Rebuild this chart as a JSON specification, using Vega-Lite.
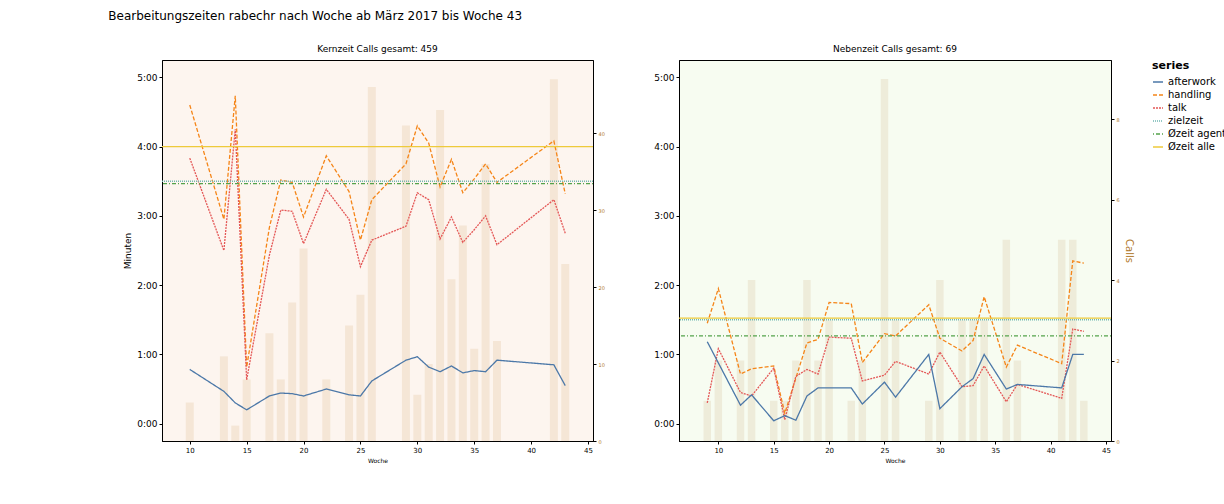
{
  "$schema": "https://vega.github.io/schema/vega-lite/v6.json",
  "autosize": {"type": "pad"},
  "padding": {"left": 108, "top": 9, "right": 14, "bottom": 4},
  "background": "white",
  "title": {"text": "Bearbeitungszeiten rabechr nach Woche ab März 2017 bis Woche 43", "fontSize": 12, "fontWeight": "normal", "font": "DejaVu Sans", "offset": 22, "dx": -15},
  "config": {
    "font": "DejaVu Sans",
    "concat": {"spacing": 86},
    "axis": {"grid": false, "domainColor": "black", "tickColor": "black", "labelColor": "black", "tickSize": 3}
  },
  "bounds": "flush",
  "datasets": {
    "lines": [
      {"panel": "K", "week": 10, "series": "handling", "value": 276},
      {"panel": "K", "week": 13, "series": "handling", "value": 177},
      {"panel": "K", "week": 14, "series": "handling", "value": 284},
      {"panel": "K", "week": 15, "series": "handling", "value": 49},
      {"panel": "K", "week": 17, "series": "handling", "value": 170},
      {"panel": "K", "week": 18, "series": "handling", "value": 211},
      {"panel": "K", "week": 19, "series": "handling", "value": 209},
      {"panel": "K", "week": 20, "series": "handling", "value": 179},
      {"panel": "K", "week": 22, "series": "handling", "value": 232},
      {"panel": "K", "week": 24, "series": "handling", "value": 201},
      {"panel": "K", "week": 25, "series": "handling", "value": 159},
      {"panel": "K", "week": 26, "series": "handling", "value": 194},
      {"panel": "K", "week": 29, "series": "handling", "value": 225},
      {"panel": "K", "week": 30, "series": "handling", "value": 258},
      {"panel": "K", "week": 31, "series": "handling", "value": 243},
      {"panel": "K", "week": 32, "series": "handling", "value": 205},
      {"panel": "K", "week": 33, "series": "handling", "value": 229},
      {"panel": "K", "week": 34, "series": "handling", "value": 200},
      {"panel": "K", "week": 35, "series": "handling", "value": 212},
      {"panel": "K", "week": 36, "series": "handling", "value": 225},
      {"panel": "K", "week": 37, "series": "handling", "value": 209},
      {"panel": "K", "week": 42, "series": "handling", "value": 245},
      {"panel": "K", "week": 43, "series": "handling", "value": 199},
      {"panel": "K", "week": 10, "series": "talk", "value": 230},
      {"panel": "K", "week": 13, "series": "talk", "value": 150},
      {"panel": "K", "week": 14, "series": "talk", "value": 255},
      {"panel": "K", "week": 15, "series": "talk", "value": 38},
      {"panel": "K", "week": 17, "series": "talk", "value": 146},
      {"panel": "K", "week": 18, "series": "talk", "value": 185},
      {"panel": "K", "week": 19, "series": "talk", "value": 184},
      {"panel": "K", "week": 20, "series": "talk", "value": 156},
      {"panel": "K", "week": 22, "series": "talk", "value": 203},
      {"panel": "K", "week": 24, "series": "talk", "value": 177},
      {"panel": "K", "week": 25, "series": "talk", "value": 136},
      {"panel": "K", "week": 26, "series": "talk", "value": 159},
      {"panel": "K", "week": 29, "series": "talk", "value": 171},
      {"panel": "K", "week": 30, "series": "talk", "value": 200},
      {"panel": "K", "week": 31, "series": "talk", "value": 194},
      {"panel": "K", "week": 32, "series": "talk", "value": 160},
      {"panel": "K", "week": 33, "series": "talk", "value": 179},
      {"panel": "K", "week": 34, "series": "talk", "value": 157},
      {"panel": "K", "week": 35, "series": "talk", "value": 168},
      {"panel": "K", "week": 36, "series": "talk", "value": 180},
      {"panel": "K", "week": 37, "series": "talk", "value": 155},
      {"panel": "K", "week": 42, "series": "talk", "value": 194},
      {"panel": "K", "week": 43, "series": "talk", "value": 165},
      {"panel": "K", "week": 10, "series": "afterwork", "value": 47},
      {"panel": "K", "week": 13, "series": "afterwork", "value": 28},
      {"panel": "K", "week": 14, "series": "afterwork", "value": 18},
      {"panel": "K", "week": 15, "series": "afterwork", "value": 12},
      {"panel": "K", "week": 17, "series": "afterwork", "value": 24},
      {"panel": "K", "week": 18, "series": "afterwork", "value": 26.5},
      {"panel": "K", "week": 19, "series": "afterwork", "value": 26},
      {"panel": "K", "week": 20, "series": "afterwork", "value": 24},
      {"panel": "K", "week": 22, "series": "afterwork", "value": 30},
      {"panel": "K", "week": 24, "series": "afterwork", "value": 25},
      {"panel": "K", "week": 25, "series": "afterwork", "value": 24},
      {"panel": "K", "week": 26, "series": "afterwork", "value": 37},
      {"panel": "K", "week": 29, "series": "afterwork", "value": 55},
      {"panel": "K", "week": 30, "series": "afterwork", "value": 58},
      {"panel": "K", "week": 31, "series": "afterwork", "value": 49},
      {"panel": "K", "week": 32, "series": "afterwork", "value": 45},
      {"panel": "K", "week": 33, "series": "afterwork", "value": 50},
      {"panel": "K", "week": 34, "series": "afterwork", "value": 44},
      {"panel": "K", "week": 35, "series": "afterwork", "value": 46},
      {"panel": "K", "week": 36, "series": "afterwork", "value": 45},
      {"panel": "K", "week": 37, "series": "afterwork", "value": 55},
      {"panel": "K", "week": 42, "series": "afterwork", "value": 51},
      {"panel": "K", "week": 43, "series": "afterwork", "value": 33},
      {"panel": "N", "week": 9, "series": "handling", "value": 87},
      {"panel": "N", "week": 10, "series": "handling", "value": 117},
      {"panel": "N", "week": 12, "series": "handling", "value": 43},
      {"panel": "N", "week": 13, "series": "handling", "value": 47.5},
      {"panel": "N", "week": 15, "series": "handling", "value": 50},
      {"panel": "N", "week": 16, "series": "handling", "value": 9},
      {"panel": "N", "week": 18, "series": "handling", "value": 70},
      {"panel": "N", "week": 19, "series": "handling", "value": 73},
      {"panel": "N", "week": 20, "series": "handling", "value": 105},
      {"panel": "N", "week": 22, "series": "handling", "value": 104},
      {"panel": "N", "week": 23, "series": "handling", "value": 53},
      {"panel": "N", "week": 25, "series": "handling", "value": 78},
      {"panel": "N", "week": 26, "series": "handling", "value": 76},
      {"panel": "N", "week": 29, "series": "handling", "value": 103},
      {"panel": "N", "week": 30, "series": "handling", "value": 74},
      {"panel": "N", "week": 32, "series": "handling", "value": 63},
      {"panel": "N", "week": 33, "series": "handling", "value": 72},
      {"panel": "N", "week": 34, "series": "handling", "value": 110},
      {"panel": "N", "week": 36, "series": "handling", "value": 49},
      {"panel": "N", "week": 37, "series": "handling", "value": 68},
      {"panel": "N", "week": 41, "series": "handling", "value": 52},
      {"panel": "N", "week": 42, "series": "handling", "value": 141},
      {"panel": "N", "week": 43, "series": "handling", "value": 139},
      {"panel": "N", "week": 9, "series": "talk", "value": 18},
      {"panel": "N", "week": 10, "series": "talk", "value": 65},
      {"panel": "N", "week": 12, "series": "talk", "value": 27},
      {"panel": "N", "week": 13, "series": "talk", "value": 24},
      {"panel": "N", "week": 15, "series": "talk", "value": 48},
      {"panel": "N", "week": 16, "series": "talk", "value": 3.5},
      {"panel": "N", "week": 17, "series": "talk", "value": 41},
      {"panel": "N", "week": 18, "series": "talk", "value": 47},
      {"panel": "N", "week": 19, "series": "talk", "value": 43},
      {"panel": "N", "week": 20, "series": "talk", "value": 75},
      {"panel": "N", "week": 22, "series": "talk", "value": 74},
      {"panel": "N", "week": 23, "series": "talk", "value": 37},
      {"panel": "N", "week": 25, "series": "talk", "value": 42},
      {"panel": "N", "week": 26, "series": "talk", "value": 54},
      {"panel": "N", "week": 29, "series": "talk", "value": 43},
      {"panel": "N", "week": 30, "series": "talk", "value": 62},
      {"panel": "N", "week": 32, "series": "talk", "value": 32},
      {"panel": "N", "week": 33, "series": "talk", "value": 33},
      {"panel": "N", "week": 34, "series": "talk", "value": 50},
      {"panel": "N", "week": 36, "series": "talk", "value": 19},
      {"panel": "N", "week": 37, "series": "talk", "value": 34},
      {"panel": "N", "week": 41, "series": "talk", "value": 22},
      {"panel": "N", "week": 42, "series": "talk", "value": 82},
      {"panel": "N", "week": 43, "series": "talk", "value": 80},
      {"panel": "N", "week": 9, "series": "afterwork", "value": 71},
      {"panel": "N", "week": 12, "series": "afterwork", "value": 16},
      {"panel": "N", "week": 13, "series": "afterwork", "value": 25},
      {"panel": "N", "week": 15, "series": "afterwork", "value": 2.5},
      {"panel": "N", "week": 16, "series": "afterwork", "value": 7},
      {"panel": "N", "week": 17, "series": "afterwork", "value": 3},
      {"panel": "N", "week": 18, "series": "afterwork", "value": 24},
      {"panel": "N", "week": 19, "series": "afterwork", "value": 31},
      {"panel": "N", "week": 20, "series": "afterwork", "value": 31},
      {"panel": "N", "week": 22, "series": "afterwork", "value": 31},
      {"panel": "N", "week": 23, "series": "afterwork", "value": 17},
      {"panel": "N", "week": 25, "series": "afterwork", "value": 36},
      {"panel": "N", "week": 26, "series": "afterwork", "value": 23},
      {"panel": "N", "week": 29, "series": "afterwork", "value": 60},
      {"panel": "N", "week": 30, "series": "afterwork", "value": 13},
      {"panel": "N", "week": 32, "series": "afterwork", "value": 32},
      {"panel": "N", "week": 33, "series": "afterwork", "value": 39},
      {"panel": "N", "week": 34, "series": "afterwork", "value": 60},
      {"panel": "N", "week": 36, "series": "afterwork", "value": 30},
      {"panel": "N", "week": 37, "series": "afterwork", "value": 34},
      {"panel": "N", "week": 41, "series": "afterwork", "value": 31},
      {"panel": "N", "week": 42, "series": "afterwork", "value": 60},
      {"panel": "N", "week": 43, "series": "afterwork", "value": 60}
    ],
    "calls": [
      {"panel": "K", "week": 10, "calls": 5}, {"panel": "K", "week": 13, "calls": 11},
      {"panel": "K", "week": 14, "calls": 2}, {"panel": "K", "week": 15, "calls": 8},
      {"panel": "K", "week": 17, "calls": 14}, {"panel": "K", "week": 18, "calls": 8},
      {"panel": "K", "week": 19, "calls": 18}, {"panel": "K", "week": 20, "calls": 25},
      {"panel": "K", "week": 22, "calls": 8}, {"panel": "K", "week": 24, "calls": 15},
      {"panel": "K", "week": 25, "calls": 19}, {"panel": "K", "week": 26, "calls": 46},
      {"panel": "K", "week": 29, "calls": 41}, {"panel": "K", "week": 30, "calls": 6},
      {"panel": "K", "week": 31, "calls": 10}, {"panel": "K", "week": 32, "calls": 43},
      {"panel": "K", "week": 33, "calls": 21}, {"panel": "K", "week": 34, "calls": 28},
      {"panel": "K", "week": 35, "calls": 12}, {"panel": "K", "week": 36, "calls": 36},
      {"panel": "K", "week": 37, "calls": 13}, {"panel": "K", "week": 42, "calls": 47},
      {"panel": "K", "week": 43, "calls": 23},
      {"panel": "N", "week": 9, "calls": 1}, {"panel": "N", "week": 10, "calls": 2},
      {"panel": "N", "week": 12, "calls": 2}, {"panel": "N", "week": 13, "calls": 4},
      {"panel": "N", "week": 15, "calls": 1}, {"panel": "N", "week": 16, "calls": 1},
      {"panel": "N", "week": 17, "calls": 2}, {"panel": "N", "week": 18, "calls": 4},
      {"panel": "N", "week": 19, "calls": 2}, {"panel": "N", "week": 20, "calls": 3},
      {"panel": "N", "week": 22, "calls": 1}, {"panel": "N", "week": 23, "calls": 2},
      {"panel": "N", "week": 25, "calls": 9}, {"panel": "N", "week": 26, "calls": 3},
      {"panel": "N", "week": 29, "calls": 1}, {"panel": "N", "week": 30, "calls": 4},
      {"panel": "N", "week": 32, "calls": 3}, {"panel": "N", "week": 33, "calls": 3},
      {"panel": "N", "week": 34, "calls": 3}, {"panel": "N", "week": 36, "calls": 5},
      {"panel": "N", "week": 37, "calls": 2}, {"panel": "N", "week": 41, "calls": 5},
      {"panel": "N", "week": 42, "calls": 5}, {"panel": "N", "week": 43, "calls": 1}
    ],
    "refs": [
      {"panel": "K", "series": "Øzeit alle", "value": 240},
      {"panel": "K", "series": "zielzeit", "value": 210},
      {"panel": "K", "series": "Øzeit agent", "value": 208},
      {"panel": "N", "series": "Øzeit alle", "value": 91.5},
      {"panel": "N", "series": "zielzeit", "value": 90},
      {"panel": "N", "series": "Øzeit agent", "value": 76}
    ]
  },
  "hconcat": [
    {
      "width": 431, "height": 381,
      "title": {"text": "Kernzeit Calls gesamt: 459", "fontSize": 9, "fontWeight": "normal", "offset": 6},
      "view": {"fill": "#fdf5ef", "stroke": "black"},
      "layer": [
        {
          "data": {"name": "calls"},
          "transform": [{"filter": "datum.panel === 'K'"}],
          "mark": {"type": "bar", "size": 8, "color": "#f5e6d6"},
          "encoding": {
            "x": {"field": "week", "type": "quantitative", "scale": {"domain": [8, 45], "nice": false},
              "axis": {"values": [10, 15, 20, 25, 30, 35, 40, 45], "title": "Woche", "titleFontSize": 6, "titleFontWeight": "normal", "labelFontSize": 7}},
            "y": {"field": "calls", "type": "quantitative", "scale": {"domain": [0, 49.5], "nice": false},
              "axis": {"orient": "right", "values": [0, 10, 20, 30, 40], "title": null, "labelFontSize": 5, "labelColor": "#b0782a"}}
          }
        },
        {
          "layer": [
            {
              "data": {"name": "lines"},
              "transform": [{"filter": "datum.panel === 'K'"}],
              "mark": {"type": "line", "strokeWidth": 1.3},
              "encoding": {
                "x": {"field": "week", "type": "quantitative"},
                "y": {"field": "value", "type": "quantitative", "scale": {"domain": [-15, 315], "nice": false},
                  "axis": {"orient": "left", "title": "Minuten", "titleFontSize": 9, "titleFontWeight": "normal",
                    "values": [0,15,30,45,60,75,90,105,120,135,150,165,180,195,210,225,240,255,270,285,300],
                    "labelExpr": "floor(datum.value/60) + ':' + (datum.value%60 < 10 ? '0' : '') + (datum.value%60)",
                    "labelFontSize": {"condition": {"test": "datum.value % 60 === 0", "value": 9}, "value": 5}}},
                "color": {"field": "series", "type": "nominal"},
                "strokeDash": {"field": "series", "type": "nominal"}
              }
            },
            {
              "data": {"name": "refs"},
              "transform": [{"filter": "datum.panel === 'K'"}],
              "mark": {"type": "rule", "strokeWidth": 1.3},
              "encoding": {
                "y": {"field": "value", "type": "quantitative"},
                "color": {"field": "series", "type": "nominal"},
                "strokeDash": {"field": "series", "type": "nominal"}
              }
            }
          ]
        }
      ],
      "resolve": {"scale": {"y": "independent"}}
    },
    {
      "width": 432, "height": 381,
      "title": {"text": "Nebenzeit Calls gesamt: 69", "fontSize": 9, "fontWeight": "normal", "offset": 6},
      "view": {"fill": "#f7fcf1", "stroke": "black"},
      "layer": [
        {
          "data": {"name": "calls"},
          "transform": [{"filter": "datum.panel === 'N'"}],
          "mark": {"type": "bar", "size": 7.5, "color": "#eeecda"},
          "encoding": {
            "x": {"field": "week", "type": "quantitative", "scale": {"domain": [6.9, 45], "nice": false},
              "axis": {"values": [10, 15, 20, 25, 30, 35, 40, 45], "title": "Woche", "titleFontSize": 6, "titleFontWeight": "normal", "labelFontSize": 7}},
            "y": {"field": "calls", "type": "quantitative", "scale": {"domain": [0, 9.47], "nice": false},
              "axis": {"orient": "right", "values": [0, 2, 4, 6, 8], "title": "Calls", "titleFontSize": 10, "titleFontWeight": "normal", "titleColor": "#b0782a", "labelFontSize": 5, "labelColor": "#b0782a"}}
          }
        },
        {
          "layer": [
            {
              "data": {"name": "lines"},
              "transform": [{"filter": "datum.panel === 'N'"}],
              "mark": {"type": "line", "strokeWidth": 1.3},
              "encoding": {
                "x": {"field": "week", "type": "quantitative"},
                "y": {"field": "value", "type": "quantitative", "scale": {"domain": [-15, 315], "nice": false},
                  "axis": {"orient": "left", "title": null,
                    "values": [0,15,30,45,60,75,90,105,120,135,150,165,180,195,210,225,240,255,270,285,300],
                    "labelExpr": "floor(datum.value/60) + ':' + (datum.value%60 < 10 ? '0' : '') + (datum.value%60)",
                    "labelFontSize": {"condition": {"test": "datum.value % 60 === 0", "value": 9}, "value": 5}}},
                "color": {"field": "series", "type": "nominal"},
                "strokeDash": {"field": "series", "type": "nominal"}
              }
            },
            {
              "data": {"name": "refs"},
              "transform": [{"filter": "datum.panel === 'N'"}],
              "mark": {"type": "rule", "strokeWidth": 1.3},
              "encoding": {
                "y": {"field": "value", "type": "quantitative"},
                "color": {"field": "series", "type": "nominal"},
                "strokeDash": {"field": "series", "type": "nominal"}
              }
            }
          ]
        }
      ],
      "resolve": {"scale": {"y": "independent"}}
    }
  ],
  "resolve": {"scale": {"color": "shared", "strokeDash": "shared"}},
  "encoding": {
    "color": {"scale": {"domain": ["handling", "Øzeit agent", "talk", "Øzeit alle", "afterwork", "zielzeit"],
      "range": ["#22a5f2", "#4cb6ee", "#cfe9f8", "#cdc3b3", "#bdb5ad", "#ff5c9d"]},
      "legend": {"title": null, "orient": "none", "legendX": 924, "legendY": -46, "columns": 2, "labelFontSize": 6, "symbolType": "stroke", "symbolSize": 120, "rowPadding": 0, "columnPadding": 12, "padding": 3, "strokeColor": "#cccccc", "fillColor": "white", "cornerRadius": 2}},
    "strokeDash": {"scale": {"domain": ["handling", "Øzeit agent", "talk", "Øzeit alle", "afterwork", "zielzeit"],
      "range": [[1, 0], [5, 2], [1, 0], [6, 2, 1, 2], [1, 0], [1.5, 2]]}, "legend": null}
  }
}
